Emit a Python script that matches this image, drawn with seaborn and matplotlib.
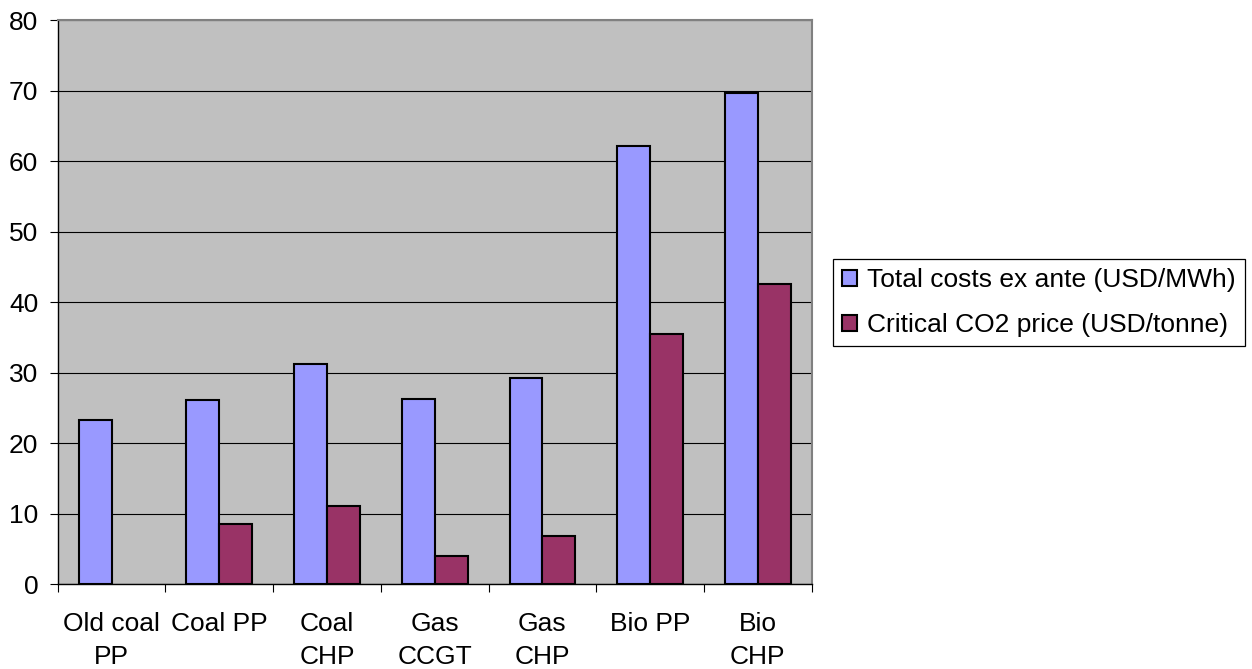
import numpy as np
import pandas as pd
import matplotlib
matplotlib.use("Agg")
import matplotlib.pyplot as plt
from matplotlib.ticker import FixedLocator, NullFormatter
import seaborn as sns

categories = ["Old coal\nPP", "Coal PP", "Coal\nCHP", "Gas\nCCGT", "Gas\nCHP", "Bio PP", "Bio\nCHP"]
total_costs = [23.3, 26.1, 31.2, 26.3, 29.2, 62.1, 69.7]
critical_co2 = [np.nan, 8.5, 11.0, 4.0, 6.8, 35.5, 42.6]
series_names = ["Total costs ex ante (USD/MWh)", "Critical CO2 price (USD/tonne)"]
series_colors = ["#9999FF", "#993366"]
y_ticks = [0, 10, 20, 30, 40, 50, 60, 70, 80]

df = pd.DataFrame({
    "category": categories * 2,
    "value": total_costs + critical_co2,
    "series": [series_names[0]] * len(categories) + [series_names[1]] * len(categories),
})

sns.set_style("white")
plt.rcParams["font.family"] = ["Liberation Sans", "DejaVu Sans"]
plt.rcParams["text.color"] = "black"
plt.rcParams["xtick.color"] = "black"
plt.rcParams["ytick.color"] = "black"
plt.rcParams["xtick.labelcolor"] = "black"
plt.rcParams["ytick.labelcolor"] = "black"

fig = plt.figure(figsize=(12.52, 6.69), dpi=100)
ax = fig.add_axes([0.0461, 0.127, 0.6022, 0.843])
ax.set_facecolor("#C0C0C0")

sns.barplot(data=df, x="category", y="value", hue="series", order=categories,
            hue_order=series_names, palette=series_colors, width=0.61,
            edgecolor="black", linewidth=1.5, saturation=1, ax=ax, legend=True)

ax.set_ylim(0, 80)
ax.set_xlim(-0.5, len(categories) - 0.5)
ax.set_yticks(y_ticks)
ax.yaxis.grid(True, color="black", linewidth=0.8)
ax.set_axisbelow(True)
ax.set_xlabel("")
ax.set_ylabel("")

ax.tick_params(axis="y", which="major", direction="out", length=6, width=0.8,
               color="black", labelcolor="black", labelsize=19, pad=8, left=True)
ax.tick_params(axis="x", which="major", length=0, labelsize=19, labelcolor="black", pad=20)
ax.xaxis.set_minor_locator(FixedLocator(np.arange(-0.5, len(categories), 1.0)))
ax.xaxis.set_minor_formatter(NullFormatter())
ax.tick_params(axis="x", which="minor", direction="out", length=6, width=0.8,
               color="black", bottom=True)
for lbl in ax.get_xticklabels():
    lbl.set_linespacing(1.5)

for side in ["left", "bottom"]:
    ax.spines[side].set_color("black")
    ax.spines[side].set_linewidth(1.0)
for side in ["top", "right"]:
    ax.spines[side].set_color("#808080")
    ax.spines[side].set_linewidth(1.5)

handles, labels = ax.get_legend_handles_labels()
leg = ax.legend(handles, labels, loc="center left", bbox_to_anchor=(1.028, 0.499),
                frameon=True, fancybox=False, framealpha=1, edgecolor="black",
                fontsize=19, handlelength=0.55, handleheight=0.55, handletextpad=0.4,
                borderpad=0.35, labelspacing=0.8, borderaxespad=0)
leg.get_frame().set_linewidth(0.9)
for t in leg.get_texts():
    t.set_color("black")

fig.savefig("out.png", dpi=100)
